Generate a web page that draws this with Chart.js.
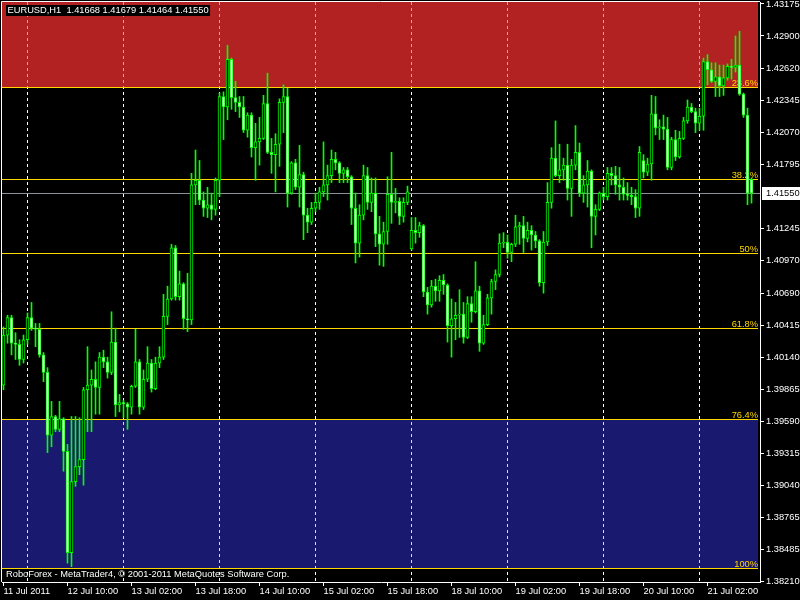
<!DOCTYPE html>
<html>
<head>
<meta charset="utf-8">
<script src="https://cdn.jsdelivr.net/npm/chart.js@4.4.0/dist/chart.umd.min.js"></script>
<style>
  html, body { margin: 0; padding: 0; background: #000; }
  #wrap { width: 800px; height: 600px; }
</style>
</head>
<body>
<div id="wrap"><canvas id="chart" width="800" height="600"></canvas></div>
<script>
// EURUSD H1, 11 Jul 18:00 .. 21 Jul 13:00 (188 bars)
const opens = [
  1.3990,1.4033,1.4048,1.4026,1.4025,1.4012,1.4029,1.4048,1.4039,1.4038,
  1.4016,1.4001,1.3947,1.3963,1.3952,1.3961,1.3933,1.3846,1.3907,1.3920,
  1.3926,1.3986,1.3990,1.3995,1.3988,1.4014,1.4010,1.4001,1.4027,1.3973,
  1.3975,1.3974,1.3971,1.3989,1.4010,1.3971,1.3995,1.4009,1.3987,1.4009,
  1.4014,1.4049,1.4064,1.4108,1.4066,1.4077,1.4047,1.4046,1.4162,1.4166,
  1.4149,1.4142,1.4145,1.4141,1.4166,1.4238,1.4229,1.4270,1.4237,1.4233,
  1.4229,1.4209,1.4222,1.4194,1.4199,1.4202,1.4232,1.4190,1.4188,1.4197,
  1.4233,1.4238,1.4155,1.4181,1.4160,1.4171,1.4136,1.4130,1.4142,1.4147,
  1.4156,1.4162,1.4170,1.4184,1.4181,1.4172,1.4175,1.4169,1.4142,1.4112,
  1.4136,1.4170,1.4147,1.4155,1.4120,1.4111,1.4122,1.4154,1.4147,1.4148,
  1.4135,1.4147,1.4107,1.4123,1.4121,1.4127,1.4070,1.4059,1.4075,1.4071,
  1.4080,1.4076,1.4041,1.4047,1.4050,1.4051,1.4031,1.4060,1.4053,1.4071,
  1.4026,1.4042,1.4065,1.4079,1.4085,1.4112,1.4113,1.4104,1.4111,1.4126,
  1.4127,1.4116,1.4123,1.4119,1.4114,1.4078,1.4113,1.4147,1.4185,1.4170,
  1.4175,1.4179,1.4159,1.4179,1.4190,1.4155,1.4162,1.4174,1.4135,1.4141,
  1.4155,1.4152,1.4172,1.4170,1.4162,1.4160,1.4154,1.4153,1.4152,1.4142,
  1.4183,1.4173,1.4180,1.4223,1.4211,1.4212,1.4210,1.4177,1.4201,1.4186,
  1.4202,1.4217,1.4229,1.4225,1.4215,1.4221,1.4268,1.4261,1.4251,1.4255,
  1.4247,1.4254,1.4264,1.4263,1.4265,1.4240,1.4222,1.41668
];
const highs = [
  1.4040,1.4050,1.4050,1.4035,1.4029,1.4033,1.4052,1.4061,1.4043,1.4043,
  1.4018,1.4005,1.3976,1.3964,1.3976,1.3962,1.3939,1.3963,1.3963,1.3962,
  1.3988,1.4023,1.4003,1.4010,1.4018,1.4020,1.4014,1.4053,1.4039,1.3982,
  1.3977,1.3975,1.3990,1.4038,1.4012,1.4003,1.4023,1.4012,1.4014,1.4023,
  1.4068,1.4075,1.4111,1.4110,1.4088,1.4078,1.4086,1.4172,1.4192,1.4183,
  1.4156,1.4160,1.4155,1.4168,1.4241,1.4242,1.4282,1.4271,1.4251,1.4238,
  1.4238,1.4224,1.4224,1.4215,1.4220,1.4239,1.4258,1.4202,1.4206,1.4236,
  1.4248,1.4245,1.4182,1.4184,1.4196,1.4173,1.4142,1.4147,1.4155,1.4160,
  1.4199,1.4179,1.4192,1.4190,1.4182,1.4177,1.4177,1.4170,1.4155,1.4145,
  1.4179,1.4177,1.4168,1.4168,1.4135,1.4130,1.4169,1.4190,1.4159,1.4151,
  1.4151,1.4161,1.4134,1.4134,1.4130,1.4128,1.4074,1.4080,1.4081,1.4084,
  1.4085,1.4077,1.4064,1.4061,1.4072,1.4061,1.4066,1.4066,1.4096,1.4075,
  1.4050,1.4068,1.4081,1.4089,1.4120,1.4121,1.4119,1.4112,1.4136,1.4130,
  1.4135,1.4130,1.4127,1.4122,1.4115,1.4122,1.4164,1.4194,1.4217,1.4197,
  1.4185,1.4197,1.4184,1.4213,1.4198,1.4170,1.4183,1.4175,1.4145,1.4156,
  1.4160,1.4177,1.4177,1.4178,1.4177,1.4168,1.4164,1.4160,1.4158,1.4195,
  1.4188,1.4185,1.4239,1.4238,1.4218,1.4222,1.4220,1.4203,1.4209,1.4208,
  1.4220,1.4235,1.4232,1.4228,1.4228,1.4271,1.4274,1.4267,1.4267,1.4265,
  1.4265,1.4266,1.4270,1.4290,1.4294,1.4241,1.4228,1.41679
];
const lows = [
  1.3986,1.4026,1.4016,1.4012,1.4007,1.4009,1.4025,1.4037,1.4023,1.4014,
  1.3993,1.3932,1.3937,1.3950,1.3950,1.3916,1.3837,1.3834,1.3903,1.3913,
  1.3904,1.3950,1.3950,1.3965,1.3965,1.4005,1.3996,1.3999,1.3963,1.3967,
  1.3962,1.3952,1.3965,1.3988,1.3965,1.3969,1.3993,1.3984,1.3986,1.4005,
  1.4012,1.4042,1.4063,1.4063,1.4063,1.4038,1.4036,1.4042,1.4145,1.4145,
  1.4135,1.4134,1.4132,1.4136,1.4152,1.4201,1.4218,1.4227,1.4225,1.4220,
  1.4207,1.4203,1.4186,1.4166,1.4179,1.4201,1.4189,1.4172,1.4156,1.4178,
  1.4207,1.4143,1.4154,1.4158,1.4143,1.4115,1.4121,1.4128,1.4139,1.4141,
  1.4152,1.4149,1.4164,1.4175,1.4164,1.4164,1.4164,1.4128,1.4095,1.4100,
  1.4132,1.4141,1.4139,1.4109,1.4093,1.4092,1.4111,1.4129,1.4138,1.4128,
  1.4130,1.4145,1.4106,1.4112,1.4117,1.4066,1.4051,1.4057,1.4062,1.4062,
  1.4068,1.4027,1.4014,1.4029,1.4031,1.4026,1.4030,1.4044,1.4052,1.4019,
  1.4025,1.4041,1.4051,1.4072,1.4083,1.4108,1.4099,1.4096,1.4109,1.4111,
  1.4104,1.4113,1.4106,1.4108,1.4075,1.4069,1.4110,1.4142,1.4169,1.4164,
  1.4166,1.4149,1.4135,1.4175,1.4152,1.4147,1.4143,1.4108,1.4119,1.4140,
  1.4149,1.4149,1.4162,1.4154,1.4149,1.4149,1.4149,1.4145,1.4134,1.4135,
  1.4168,1.4170,1.4166,1.4205,1.4201,1.4201,1.4175,1.4175,1.4183,1.4185,
  1.4201,1.4215,1.4224,1.4207,1.4209,1.4209,1.4248,1.4250,1.4238,1.4238,
  1.4239,1.4252,1.4253,1.4259,1.4239,1.4220,1.4145,1.41464
];
const closes = [
  1.4033,1.4048,1.4026,1.4025,1.4012,1.4029,1.4048,1.4039,1.4038,1.4016,
  1.4001,1.3947,1.3963,1.3952,1.3961,1.3933,1.3846,1.3907,1.3920,1.3926,
  1.3986,1.3990,1.3995,1.3988,1.4014,1.4010,1.4001,1.4027,1.3973,1.3975,
  1.3974,1.3971,1.3989,1.4010,1.3971,1.3995,1.4009,1.3987,1.4009,1.4014,
  1.4049,1.4064,1.4108,1.4066,1.4077,1.4047,1.4046,1.4162,1.4166,1.4149,
  1.4142,1.4145,1.4141,1.4166,1.4238,1.4229,1.4270,1.4237,1.4233,1.4229,
  1.4209,1.4222,1.4194,1.4199,1.4202,1.4232,1.4190,1.4188,1.4197,1.4233,
  1.4238,1.4155,1.4181,1.4160,1.4171,1.4136,1.4130,1.4142,1.4147,1.4156,
  1.4162,1.4170,1.4184,1.4181,1.4172,1.4175,1.4169,1.4142,1.4112,1.4136,
  1.4170,1.4147,1.4155,1.4120,1.4111,1.4122,1.4154,1.4147,1.4148,1.4135,
  1.4147,1.4156,1.4123,1.4121,1.4127,1.4070,1.4059,1.4075,1.4071,1.4080,
  1.4076,1.4041,1.4047,1.4050,1.4051,1.4031,1.4060,1.4053,1.4071,1.4026,
  1.4042,1.4065,1.4079,1.4085,1.4112,1.4113,1.4104,1.4111,1.4126,1.4127,
  1.4116,1.4123,1.4119,1.4114,1.4078,1.4113,1.4147,1.4185,1.4170,1.4175,
  1.4179,1.4159,1.4179,1.4190,1.4155,1.4162,1.4174,1.4135,1.4141,1.4155,
  1.4152,1.4172,1.4170,1.4162,1.4160,1.4154,1.4153,1.4152,1.4142,1.4190,
  1.4173,1.4180,1.4223,1.4211,1.4212,1.4210,1.4177,1.4201,1.4186,1.4202,
  1.4217,1.4229,1.4225,1.4215,1.4221,1.4268,1.4261,1.4251,1.4255,1.4247,
  1.4254,1.4264,1.4263,1.4265,1.4240,1.4222,1.4155,1.41550
];

// time axis: a label every 16 bars
const xTickIdx = [0, 16, 32, 48, 64, 80, 96, 112, 128, 144, 160, 176];
const xLabels = ['11 Jul 2011', '12 Jul 10:00', '13 Jul 02:00', '13 Jul 18:00', '14 Jul 10:00', '15 Jul 02:00',
                 '15 Jul 18:00', '18 Jul 10:00', '19 Jul 02:00', '19 Jul 18:00', '20 Jul 10:00', '21 Jul 02:00'];
// day separators (bar index of 00:00)
const daySeps = [6, 30, 54, 78, 102, 126, 150, 174];

const yTicks = [1.43175, 1.42900, 1.42620, 1.42345, 1.42070, 1.41795, 1.41245, 1.40970, 1.40690,
                1.40415, 1.40140, 1.39865, 1.39590, 1.39315, 1.39040, 1.38765, 1.38485, 1.38210];

// fibonacci retracement
const fibHigh = 1.43738;
const fibLow = 1.38328;
const fibLevels = [23.6, 38.2, 50, 61.8, 76.4, 100];

const FONT = '"Liberation Sans", Arial, sans-serif';
const FSIZE = 9.3;
const LIME = '#00ff00';
const GOLD = '#ffd700';

const fibPrice = lvl => fibHigh - (fibHigh - fibLow) * lvl / 100;

const mt4 = {
  id: 'mt4',
  beforeDraw(chart) {
    const c = chart.ctx;
    c.save();
    c.fillStyle = '#000';
    c.fillRect(0, 0, chart.width, chart.height);
    c.restore();
  },
  beforeDatasetsDraw(chart) {
    const { ctx, chartArea: a, scales: { x, y } } = chart;
    const right = a.right - 2;
    ctx.save();
    ctx.beginPath();
    ctx.rect(a.left, a.top, a.right - a.left, a.bottom - a.top);
    ctx.clip();

    // zones
    const py = lvl => Math.round(y.getPixelForValue(fibPrice(lvl)));
    ctx.fillStyle = '#b22222';
    ctx.fillRect(a.left, py(0), right - a.left, py(23.6) - py(0));
    ctx.fillStyle = '#191970';
    ctx.fillRect(a.left, py(76.4), right - a.left, py(100) - py(76.4));

    // day separators
    ctx.globalCompositeOperation = 'difference';
    ctx.strokeStyle = '#ffffff';
    ctx.lineWidth = 1;
    ctx.setLineDash([3, 3]);
    daySeps.forEach(i => {
      const px = x.getPixelForValue(i);
      ctx.beginPath();
      ctx.moveTo(px, a.top);
      ctx.lineTo(px, a.bottom);
      ctx.stroke();
    });
    ctx.globalCompositeOperation = 'source-over';
    ctx.setLineDash([]);

    // fib lines + labels
    ctx.strokeStyle = GOLD;
    ctx.fillStyle = GOLD;
    ctx.font = FSIZE + 'px ' + FONT;
    ctx.textAlign = 'right';
    ctx.textBaseline = 'alphabetic';
    fibLevels.forEach(l => {
      const yy = py(l) + 0.5;
      ctx.beginPath();
      ctx.moveTo(a.left, yy);
      ctx.lineTo(right, yy);
      ctx.stroke();
      ctx.fillText(l + '%', right, yy - 2);
    });

    // bid line
    const last = closes[closes.length - 1];
    const by = Math.round(y.getPixelForValue(last)) + 0.5;
    ctx.strokeStyle = '#8a9099';
    ctx.beginPath();
    ctx.moveTo(a.left, by);
    ctx.lineTo(a.right, by);
    ctx.stroke();
    ctx.restore();
  },
  afterDraw(chart) {
    const { ctx, chartArea: a, scales: { y } } = chart;
    ctx.save();
    // frame left / top
    ctx.strokeStyle = '#fff';
    ctx.lineWidth = 1;
    ctx.beginPath();
    ctx.moveTo(a.left - 0.5, a.bottom);
    ctx.lineTo(a.left - 0.5, a.top - 0.5);
    ctx.lineTo(a.right, a.top - 0.5);
    ctx.stroke();

    ctx.font = FSIZE + 'px ' + FONT;
    ctx.textBaseline = 'middle';
    ctx.textAlign = 'left';

    // current price box
    const last = closes[closes.length - 1];
    const by = Math.round(y.getPixelForValue(last));
    ctx.fillStyle = '#fff';
    ctx.fillRect(a.right + 2, by - 6, 800 - a.right - 2, 13);
    ctx.fillStyle = '#000';
    ctx.fillText(last.toFixed(5), a.right + 6, by + 0.5);

    // header
    const i = closes.length - 1;
    const head = 'EURUSD,H1  ' + [opens[i], highs[i], lows[i], closes[i]].map(v => v.toFixed(5)).join(' ');
    ctx.fillStyle = '#000';
    ctx.fillRect(6, 5, ctx.measureText(head).width + 3, 11);
    ctx.fillStyle = '#fff';
    ctx.fillText(head, 7.5, 10.5);

    // footer
    ctx.fillText('RoboForex - MetaTrader4, \u00a9 2001-2011 MetaQuotes Software Corp.', 6, 574);
    ctx.restore();
  }
};

const idx = closes.map((_, i) => i);

new Chart(document.getElementById('chart'), {
  type: 'bar',
  data: {
    datasets: [
      {
        label: 'wick',
        data: idx.map(i => ({ x: i, y: [lows[i], highs[i]] })),
        backgroundColor: LIME,
        borderWidth: 0,
        barThickness: 1,
        grouped: false,
        order: 2
      },
      {
        label: 'body',
        data: idx.map(i => ({ x: i, y: [opens[i], closes[i]] })),
        backgroundColor: c => closes[c.dataIndex] >= opens[c.dataIndex] ? '#000000' : '#ffffff',
        borderColor: LIME,
        borderWidth: 1,
        borderSkipped: false,
        barThickness: 3,
        minBarLength: 1,
        grouped: false,
        order: 1
      }
    ]
  },
  options: {
    responsive: false,
    animation: false,
    devicePixelRatio: 1,
    layout: { padding: { left: 2, top: 2, right: 0, bottom: 0 } },
    plugins: { legend: { display: false }, tooltip: { enabled: false } },
    scales: {
      x: {
        type: 'linear',
        position: 'bottom',
        min: -0.375,
        max: 189.125,
        offset: false,
        afterBuildTicks: s => { s.ticks = xTickIdx.map(v => ({ value: v })); },
        afterFit: s => { s.height = 18; s.paddingLeft = 0; s.paddingRight = 0; s.paddingTop = 0; s.paddingBottom = 0; },
        ticks: {
          callback: (v, k) => xLabels[k],
          align: 'start',
          color: '#fff',
          font: { family: FONT, size: FSIZE },
          padding: 0,
          maxRotation: 0,
          minRotation: 0,
          autoSkip: false
        },
        grid: { drawOnChartArea: false, drawTicks: true, tickLength: 4, color: '#fff', offset: false },
        border: { display: true, color: '#fff', width: 1 }
      },
      y: {
        type: 'linear',
        position: 'right',
        min: 1.38208,
        max: 1.43192,
        beginAtZero: false,
        afterBuildTicks: s => { s.ticks = yTicks.map(v => ({ value: v })); },
        afterFit: s => { s.width = 40; s.paddingLeft = 0; s.paddingRight = 0; s.paddingTop = 0; s.paddingBottom = 0; },
        ticks: {
          callback: v => v.toFixed(5),
          color: '#fff',
          font: { family: FONT, size: FSIZE },
          padding: 2
        },
        grid: { drawOnChartArea: false, drawTicks: true, tickLength: 4, color: '#fff' },
        border: { display: true, color: '#fff', width: 1 }
      }
    }
  },
  plugins: [mt4]
});
</script>
</body>
</html>
